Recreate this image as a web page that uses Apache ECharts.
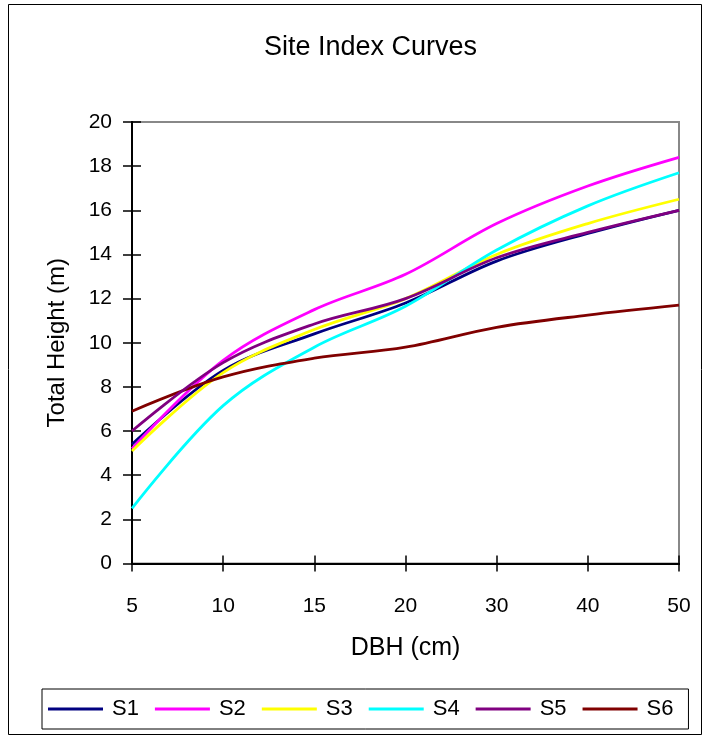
<!DOCTYPE html>
<html>
<head>
<meta charset="utf-8">
<script src="https://cdn.jsdelivr.net/npm/echarts@6/dist/echarts.min.js"></script>
<style>
  html, body { margin: 0; padding: 0; background: #fff; }
  #chart { width: 708px; height: 738px; }
</style>
</head>
<body>
<div id="chart"></div>
<script>
// DBH classes (cm) along the horizontal axis
const dbhClasses = ['5', '10', '15', '20', '30', '40', '50'];

// Total height (m) for each site index curve
const s1 = [5.4, 8.75, 10.4, 11.8, 13.7, 14.95, 16.0];
const s2 = [5.2, 9.2, 11.5, 13.1, 15.4, 17.1, 18.4];
const s3 = [5.1, 8.65, 10.6, 12.0, 14.0, 15.4, 16.5];
const s4 = [2.5, 7.15, 9.8, 11.65, 14.2, 16.2, 17.7];
const s5 = [6.0, 9.1, 10.85, 12.0, 13.85, 15.0, 16.0];
const s6 = [6.9, 8.45, 9.3, 9.8, 10.7, 11.25, 11.7];

const seriesNames = ['S1', 'S2', 'S3', 'S4', 'S5', 'S6'];
const seriesColors = ['#000080', '#FF00FF', '#FFFF00', '#00FFFF', '#800080', '#800000'];
const seriesData = [s1, s2, s3, s4, s5, s6];

const FONT = '"Liberation Sans", Arial, sans-serif';

const chart = echarts.init(document.getElementById('chart'), null, { renderer: 'canvas' });

const baseY = {
  type: 'value', min: 0, max: 20, interval: 2, position: 'left',
  axisLine: { show: true, lineStyle: { color: '#000', width: 2 } },
  splitLine: { show: false }
};
const baseX = {
  type: 'category', data: dbhClasses, boundaryGap: false, position: 'bottom',
  axisLine: { show: true, lineStyle: { color: '#000', width: 2 } },
  splitLine: { show: false }
};

chart.setOption({
  animation: false,
  backgroundColor: '#fff',
  title: {
    text: 'Site Index Curves', left: 259, top: 29,
    textStyle: { fontFamily: FONT, fontSize: 27, fontWeight: 'normal', color: '#000' }
  },
  graphic: [{
    type: 'rect', shape: { x: 8.5, y: 4.5, width: 693, height: 730 },
    style: { fill: 'none', stroke: '#000', lineWidth: 1 }, z: -1
  }],
  grid: {
    left: 132, top: 122, right: 29, bottom: 174.5,
    show: true, borderColor: '#888', borderWidth: 2, backgroundColor: '#fff'
  },
  legend: {
    data: seriesNames, left: 42, top: 689,
    orient: 'horizontal', icon: 'rect', itemWidth: 55, itemHeight: 3, itemGap: 16,
    padding: [9, 15, 9, 6], borderColor: '#000', borderWidth: 1,
    textStyle: { fontFamily: FONT, fontSize: 22, color: '#000', padding: [0, 0, 0, 4] }
  },
  xAxis: [
    Object.assign({}, baseX, {
      name: 'DBH (cm)', nameLocation: 'middle', nameGap: 72,
      nameTextStyle: { fontFamily: FONT, fontSize: 25, color: '#000' },
      axisTick: { show: true, inside: false, length: 8, lineStyle: { color: '#000', width: 1.5 } },
      axisLabel: { fontFamily: FONT, fontSize: 21, color: '#000', margin: 32 }
    }),
    Object.assign({}, baseX, {
      axisTick: { show: true, inside: true, length: 8, lineStyle: { color: '#000', width: 1.5 } },
      axisLabel: { show: false }
    })
  ],
  yAxis: [
    Object.assign({}, baseY, {
      name: 'Total Height (m)', nameLocation: 'middle', nameGap: 63, nameRotate: 90,
      nameTextStyle: { fontFamily: FONT, fontSize: 24, color: '#000' },
      axisTick: { show: true, inside: false, length: 9, lineStyle: { color: '#000', width: 1.5 } },
      axisLabel: { fontFamily: FONT, fontSize: 21, color: '#000', margin: 20 }
    }),
    Object.assign({}, baseY, {
      axisTick: { show: true, inside: true, length: 9, lineStyle: { color: '#000', width: 1.5 } },
      axisLabel: { show: false }
    })
  ],
  series: seriesData.map((d, i) => ({
    name: seriesNames[i], type: 'line', data: d,
    xAxisIndex: 0, yAxisIndex: 0,
    smooth: 0.35, showSymbol: false, symbol: 'none',
    lineStyle: { color: seriesColors[i], width: 2.8 },
    itemStyle: { color: seriesColors[i] },
    z: 2 + (i === 4 ? 1 : 0)
  }))
});
</script>
</body>
</html>
